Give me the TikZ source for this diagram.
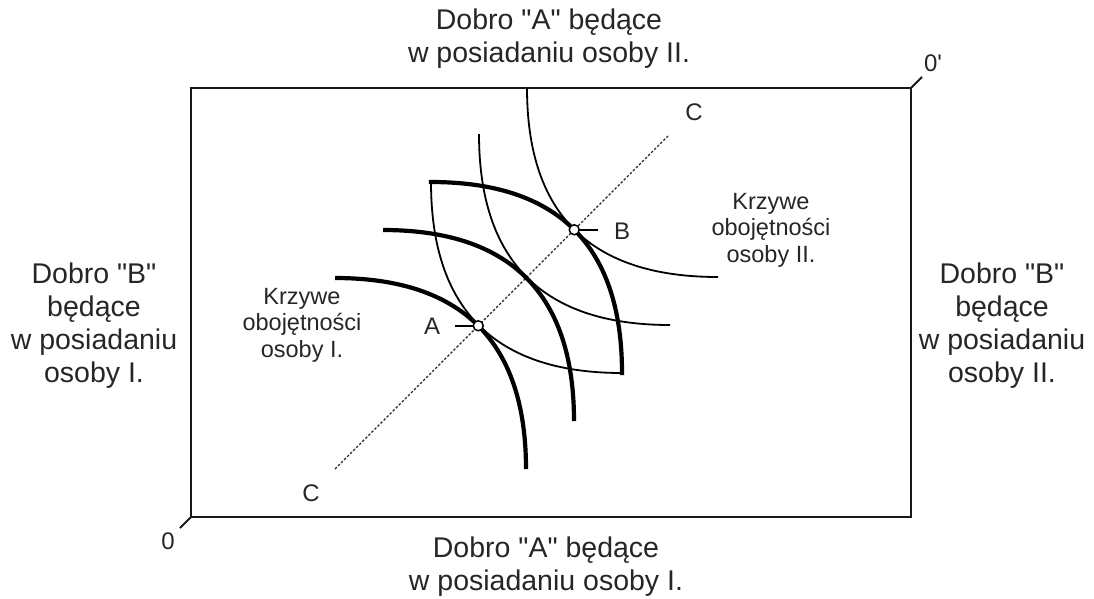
\documentclass[tikz,border=0pt]{standalone}
\usepackage{fontspec}
\setmainfont{Liberation Sans}[Ligatures=TeXOff]
\begin{document}
\begin{tikzpicture}[x=1pt,y=-1pt,
  big/.style={font=\fontsize{28.5}{33}\selectfont, align=center, text=black!85, inner sep=0pt},
  small/.style={font=\fontsize{23.5}{26.5}\selectfont, align=center, text=black!85, inner sep=0pt},
  letter/.style={font=\fontsize{24}{26}\selectfont, text=black!85, inner sep=0pt},
  thickc/.style={line width=4.2pt},
  thinc/.style={line width=1.8pt},
  frame/.style={line width=1.2pt, black!90},
  diag/.style={line width=1.1pt, dash pattern=on 2.5pt off 1.8pt, black!85},
  mark circle/.style={circle, draw, line width=1.5pt, fill=white, minimum size=10pt, inner sep=0pt},
]
\useasboundingbox (0,0) rectangle (1094,598);
% frame
\coordinate (O) at (191,517);
\coordinate (Op) at (911,88);
\draw[frame] (O |- Op) rectangle (Op |- O);
\draw[frame, line width=2pt] (O) -- ++(-11,11);
\draw[frame, line width=2pt] (Op) -- ++(11,-11);
% key points
\coordinate (A) at (478.25,325.75);
\coordinate (B) at (574.25,229.75);
\coordinate (C1) at (335,469);
\coordinate (C2) at (668,136);
\draw[diag] (C1) -- (C2);
% indifference curves of person I (thick)
\draw[thickc] (335,278) .. controls (462.3,278) and (526,341.7) .. (526,469);
\draw[thickc] (383,230) .. controls (510.3,230) and (574,293.7) .. (574,421);
\draw[thickc, line cap=rect] (431,182) .. controls (558.3,182) and (622,245.7) .. (622,373);
% indifference curves of person II (thin)
\draw[thinc] (431,182) .. controls (431,309.3) and (494.7,373) .. (622,373);
\draw[thinc] (479,134) .. controls (479,261.3) and (542.7,325) .. (670,325);
\draw[thinc] (527,88) .. controls (527,214.7) and (590.7,277) .. (718,277);
% markers
\draw[line width=1.5pt] (A) -- ++(-23,0);
\draw[line width=1.5pt] (B) -- ++(24,0);
\node[mark circle] (mA) at (A) {};
\node[mark circle] (mB) at (B) {};
% labels
\node[letter] (lA) at (432,326) {A};
\node[letter] (lB) at (622,231) {B};
\node[letter] (lC1) at (311,493) {C};
\node[letter] (lC2) at (694,112) {C};
\node[letter] (l0) at (168,541) {0};
\node[letter] (l0p) at (933,63) {0'};
\node[big] (top) at (549,38.5) {Dobro "A" będące\\ w posiadaniu osoby II.};
\node[big] (bottom) at (546,567) {Dobro "A" będące\\w posiadaniu osoby I.};
\node[big] (left) at (94,325.5) {Dobro "B"\\będące\\w posiadaniu\\osoby I.};
\node[big] (right) at (1002,325.5) {Dobro "B"\\będące\\w posiadaniu\\osoby II.};
\node[small] (kI) at (302,325) {Krzywe\\obojętności\\osoby I.};
\node[small] (kII) at (771,230) {Krzywe\\obojętności\\osoby II.};
\end{tikzpicture}
\end{document}
